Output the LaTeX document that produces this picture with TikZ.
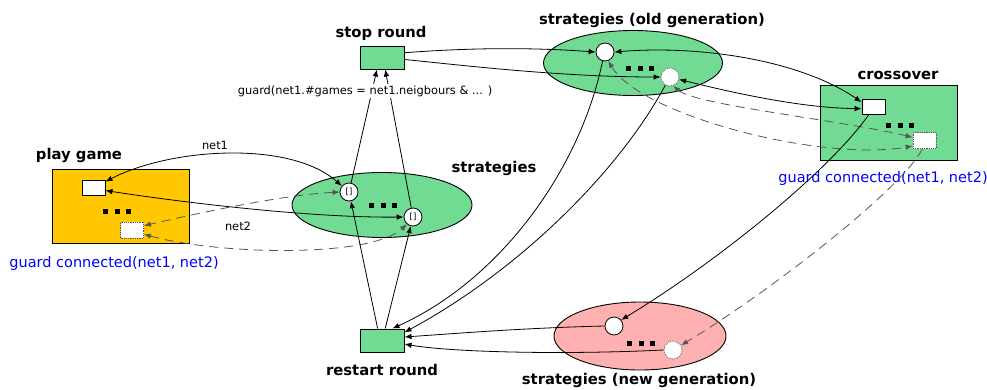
\documentclass[tikz,border=0pt]{standalone}
\usepackage{fontspec}
\setmainfont{DejaVu Sans}
\usetikzlibrary{arrows.meta,shapes.geometric}
\definecolor{grn}{RGB}{113,219,148}
\definecolor{org}{RGB}{255,200,0}
\definecolor{pnk}{RGB}{255,176,176}
\definecolor{dsh}{RGB}{85,85,85}
\begin{document}
\begin{tikzpicture}[x=1pt,y=-1pt,
  >={Latex[length=7pt,width=5.5pt]},
  lbl/.style={font=\fontsize{14.8}{17}\selectfont\bfseries},
  blu/.style={text=blue,font=\fontsize{14.5}{17}\selectfont},
  small/.style={font=\fontsize{11.4}{13}\selectfont},
  container/.style={draw,line width=1pt,inner sep=0},
  trans/.style={draw,line width=1pt,inner sep=0,minimum width=44pt,minimum height=23pt,fill=grn},
  place/.style={circle,draw,line width=0.8pt,fill=white,minimum size=18pt,inner sep=0,font=\fontsize{8.5}{9}\selectfont},
  dplace/.style={circle,draw=dsh,densely dotted,line width=0.8pt,fill=white,minimum size=18pt,inner sep=0},
  wbox/.style={draw,line width=0.9pt,fill=white,minimum width=23pt,minimum height=15pt,inner sep=0},
  dbox/.style={draw=dsh,densely dotted,line width=0.8pt,fill=white,minimum width=23pt,minimum height=16pt,inner sep=0},
  arc/.style={draw,line width=0.8pt},
  darc/.style={draw=dsh,line width=0.8pt,dash pattern=on 9pt off 6pt},
  dots/.pic={\fill (-14,-2.5) rectangle ++(5,5); \fill (-2.5,-2.5) rectangle ++(5,5); \fill (9,-2.5) rectangle ++(5,5);}
]
\useasboundingbox (0,0) rectangle (987,389);

% containers
\node[container,fill=org,minimum width=137pt,minimum height=74pt] (pg) at (120.5,206) {};
\node[container,fill=grn,minimum width=137pt,minimum height=75pt] (co) at (888.5,122.5) {};
\node[ellipse,draw,line width=0.9pt,fill=grn,minimum width=180pt,minimum height=65pt] (st) at (382,205) {};
\node[ellipse,draw,line width=0.9pt,fill=grn,minimum width=179pt,minimum height=65pt] (og) at (633,63) {};
\node[ellipse,draw,line width=0.9pt,fill=pnk,minimum width=172pt,minimum height=68pt] (ng) at (640,336) {};

% transitions
\node[trans] (stop) at (382,57.5) {};
\node[trans] (restart) at (382,340.5) {};

% inner elements
\node[wbox] (pgA) at (93.5,188) {};
\node[dbox] (pgB) at (132,230) {};
\node[wbox] (coA) at (873.5,106.5) {};
\node[dbox] (coB) at (924.5,140.5) {};
\node[place] (s1) at (349,192) {[]};
\node[place] (s2) at (413,217) {[]};
\node[place] (o1) at (605,52) {};
\node[dplace] (o2) at (670,77) {};
\node[place] (n1) at (614,326) {};
\node[dplace] (n2) at (673,350) {};

\pic at (117,211) {dots};
\pic at (383,205) {dots};
\pic at (640,68) {dots};
\pic at (900,125) {dots};
\pic at (641,343) {dots};

% labels
\node[lbl] (tpg) at (79,155) {play game};
\node[lbl] (tst) at (494,168) {strategies};
\node[lbl] (tstop) at (381,33) {stop round};
\node[lbl] (trs) at (382,370) {restart round};
\node[lbl] (tog) at (652,20) {strategies (old generation)};
\node[lbl] (tco) at (898,75) {crossover};
\node[lbl] (tng) at (639,380) {strategies (new generation)};
\node[blu] (gpg) at (114,263) {guard connected(net1, net2)};
\node[blu] (gco) at (883,178) {guard connected(net1, net2)};
\node[small] (lnet1) at (215,145) {net1};
\node[small] (lnet2) at (238,226) {net2};

% play game <-> strategies
\draw[arc,<->] (pgA.28) .. controls (170,148) and (290,140) .. (s1.140);
\draw[arc,<->] (pgA.-12) .. controls (200,205) and (320,218) .. (s2.west);
\draw[darc,<->] (s1.west) .. controls (280,195) and (190,215) .. (pgB.20);
\draw[darc,<->] (pgB.-20) .. controls (220,255) and (370,258) .. (s2.-130);

% strategies -> stop, restart -> strategies
\draw[arc,->] (restart.110) -- (s1);
\draw[arc,->] (restart.75) -- (s2);
\draw[arc,->] (s1) -- (stop.-113);
\draw[arc,->] (s2) -- (stop.-75);

% stop -> old generation
\draw[arc,->] (stop.12) .. controls (480,47) and (540,48) .. (o1.west);
\draw[arc,->] (stop.-5) .. controls (460,65) and (560,77) .. (o2.west);

% old generation <-> crossover
\draw[arc,<->] (o1.east) .. controls (700,45) and (800,60) .. (coA.160);
\draw[arc,<->] (o2.-15) .. controls (730,92) and (800,108) .. (coA.-170);
\draw[darc,<->] (o1.-70) .. controls (640,115) and (820,162) .. (coB.-155);
\draw[darc,<->] (o2.-70) .. controls (695,105) and (840,120) .. (coB.165);

% old generation -> restart
\draw[arc,->] (o1.-105) .. controls (580,170) and (500,280) .. (restart.49);
\draw[arc,->] (o2.-120) .. controls (620,170) and (520,270) .. (restart.20);

% crossover -> new generation
\draw[arc,->] (coA.-120) .. controls (830,170) and (720,260) .. (n1.40);
\draw[darc,->] (coB.-105) .. controls (905,185) and (780,285) .. (n2.30);

% new generation -> restart
\draw[arc,->] (n1.west) .. controls (520,328) and (450,334) .. (restart.9);
\draw[arc,->] (n2.west) .. controls (560,355) and (450,352) .. (restart.-9);

% guard text of stop round, over the arcs
\node[small,fill=white,inner sep=1.5pt] (gstop) at (365,91) {guard(net1.\#games = net1.neigbours \& ... )};
\end{tikzpicture}
\end{document}
